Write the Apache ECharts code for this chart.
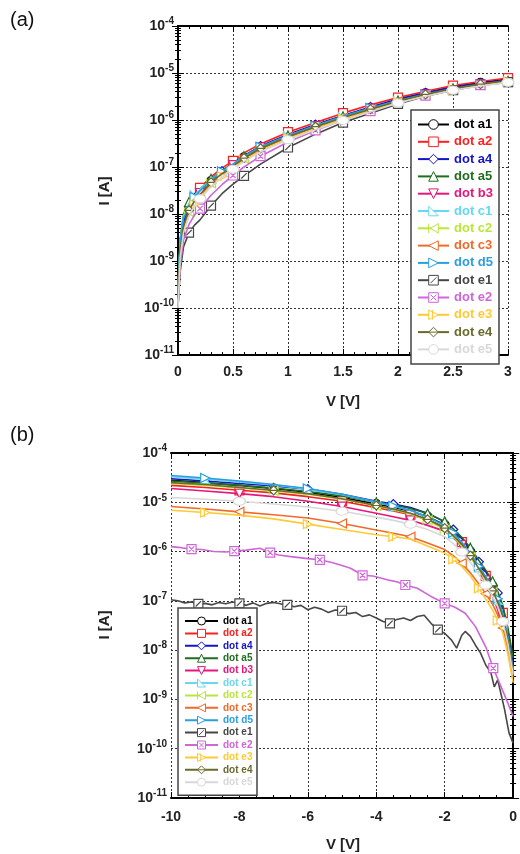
<!DOCTYPE html>
<html><head><meta charset="utf-8">
<script src="https://cdn.jsdelivr.net/npm/echarts@6/dist/echarts.min.js"></script>
<style>html,body{margin:0;padding:0;background:#fff}#c{width:520px;height:854px}</style>
</head><body><div id="c"></div>
<script>
// ---------------- DATA ----------------
const seriesNames = ['dot a1','dot a2','dot a4','dot a5','dot b3','dot c1','dot c2','dot c3','dot d5','dot e1','dot e2','dot e3','dot e4','dot e5'];
const xTicksA = [0, 0.5, 1, 1.5, 2, 2.5, 3];
const xTicksB = [-10, -8, -6, -4, -2, 0];
const yTickExponents = [-11, -10, -9, -8, -7, -6, -5, -4];

// Panel (a): forward bias, V [V]
const va = [0, 0.02, 0.05, 0.1, 0.15, 0.2, 0.3, 0.4, 0.5, 0.6, 0.75, 1.0, 1.25, 1.5, 1.75, 2.0, 2.25, 2.5, 2.75, 3.0];
const ia_a1 = [1.5e-10, 1.8e-9, 6e-9, 1.3e-8, 2e-8, 2.8e-8, 5e-8, 7.5e-8, 1.1e-7, 1.6e-7, 2.6e-7, 4.6e-7, 7.6e-7, 1.2e-6, 1.8e-6, 2.7e-6, 3.7e-6, 5e-6, 6.2e-6, 7.4e-6];
const ia_a2 = [1.2e-10, 2.5e-9, 8e-9, 1.6e-8, 2.6e-8, 3.6e-8, 6.2e-8, 9.5e-8, 1.35e-7, 2e-7, 3.1e-7, 5.5e-7, 8.8e-7, 1.4e-6, 2.1e-6, 3.0e-6, 4.1e-6, 5.4e-6, 6.6e-6, 7.8e-6];
const ia_a4 = [2e-10, 2e-9, 7e-9, 1.4e-8, 2.2e-8, 3e-8, 5.4e-8, 8.2e-8, 1.2e-7, 1.75e-7, 2.8e-7, 4.9e-7, 8e-7, 1.25e-6, 1.9e-6, 2.8e-6, 3.8e-6, 5e-6, 6.1e-6, 7.2e-6];
const ia_a5 = [3e-10, 3e-9, 1e-8, 1.8e-8, 2.6e-8, 3.4e-8, 5.6e-8, 8.4e-8, 1.2e-7, 1.7e-7, 2.7e-7, 4.7e-7, 7.6e-7, 1.2e-6, 1.8e-6, 2.6e-6, 3.6e-6, 4.7e-6, 5.8e-6, 6.8e-6];
const ia_b3 = [1e-10, 1.5e-9, 5.5e-9, 1.2e-8, 2e-8, 2.8e-8, 5e-8, 7.6e-8, 1.1e-7, 1.6e-7, 2.6e-7, 4.6e-7, 7.4e-7, 1.15e-6, 1.75e-6, 2.55e-6, 3.5e-6, 4.6e-6, 5.7e-6, 6.6e-6];
const ia_c1 = [2.5e-10, 2.8e-9, 9e-9, 1.7e-8, 2.5e-8, 3.3e-8, 5.5e-8, 8e-8, 1.15e-7, 1.65e-7, 2.6e-7, 4.5e-7, 7.3e-7, 1.15e-6, 1.7e-6, 2.5e-6, 3.4e-6, 4.5e-6, 5.5e-6, 6.4e-6];
const ia_c2 = [1.5e-10, 1.6e-9, 5e-9, 1.1e-8, 1.8e-8, 2.5e-8, 4.5e-8, 7e-8, 1.02e-7, 1.5e-7, 2.4e-7, 4.3e-7, 7e-7, 1.1e-6, 1.65e-6, 2.45e-6, 3.4e-6, 4.4e-6, 5.5e-6, 6.5e-6];
const ia_c3 = [1.2e-10, 1.4e-9, 4.8e-9, 1.05e-8, 1.7e-8, 2.4e-8, 4.4e-8, 6.8e-8, 1e-7, 1.48e-7, 2.4e-7, 4.3e-7, 7e-7, 1.12e-6, 1.7e-6, 2.5e-6, 3.4e-6, 4.5e-6, 5.6e-6, 6.6e-6];
const ia_d5 = [2.2e-10, 2.4e-9, 8e-9, 1.5e-8, 2.3e-8, 3.1e-8, 5.3e-8, 8e-8, 1.15e-7, 1.7e-7, 2.7e-7, 4.7e-7, 7.6e-7, 1.2e-6, 1.8e-6, 2.6e-6, 3.5e-6, 4.6e-6, 5.7e-6, 6.7e-6];
const ia_e1 = [1.1e-10, 6e-10, 2e-9, 4e-9, 5.8e-9, 7.5e-9, 1.5e-8, 2.7e-8, 4.3e-8, 6.5e-8, 1.15e-7, 2.6e-7, 5e-7, 8.8e-7, 1.4e-6, 2.2e-6, 3.2e-6, 4.3e-6, 5.4e-6, 6.4e-6];
const ia_e2 = [1e-10, 8e-10, 2.8e-9, 6e-9, 9.5e-9, 1.3e-8, 2.5e-8, 4.2e-8, 6.6e-8, 1e-7, 1.7e-7, 3.4e-7, 6e-7, 1e-6, 1.55e-6, 2.35e-6, 3.3e-6, 4.4e-6, 5.5e-6, 6.5e-6];
const ia_e3 = [1.3e-10, 1.3e-9, 4.5e-9, 1e-8, 1.6e-8, 2.2e-8, 4e-8, 6.3e-8, 9.4e-8, 1.38e-7, 2.2e-7, 4e-7, 6.6e-7, 1.05e-6, 1.6e-6, 2.4e-6, 3.3e-6, 4.4e-6, 5.5e-6, 6.6e-6];
const ia_e4 = [1.6e-10, 1.7e-9, 5.5e-9, 1.2e-8, 1.9e-8, 2.6e-8, 4.7e-8, 7.2e-8, 1.05e-7, 1.55e-7, 2.5e-7, 4.4e-7, 7.2e-7, 1.13e-6, 1.7e-6, 2.5e-6, 3.5e-6, 4.6e-6, 5.8e-6, 6.9e-6];
const ia_e5 = [1e-10, 1.2e-9, 4e-9, 9e-9, 1.5e-8, 2.1e-8, 3.8e-8, 6e-8, 9e-8, 1.3e-7, 2.1e-7, 3.8e-7, 6.2e-7, 9.8e-7, 1.5e-6, 2.3e-6, 3.2e-6, 4.3e-6, 5.3e-6, 6.3e-6];

// Panel (b): reverse bias, V [V]
const vb = [-10, -9, -8, -7, -6, -5, -4, -3.5, -3, -2.5, -2, -1.75, -1.5, -1.25, -1, -0.8, -0.6, -0.45, -0.3, -0.15, 0];
const ib_a1 = [2.8e-5, 2.5e-5, 2.2e-5, 1.9e-5, 1.6e-5, 1.25e-5, 9.2e-6, 7.9e-6, 6.6e-6, 5.1e-6, 3.5e-6, 2.5e-6, 1.65e-6, 1.0e-6, 5.5e-7, 3.4e-7, 2.0e-7, 1.2e-7, 6.2e-8, 2.0e-8, 4.5e-9];
const ib_a2 = [2.2e-5, 2.0e-5, 1.75e-5, 1.55e-5, 1.3e-5, 1.05e-5, 7.8e-6, 6.7e-6, 5.6e-6, 4.4e-6, 3.2e-6, 2.3e-6, 1.55e-6, 9.3e-7, 5.1e-7, 3.2e-7, 1.85e-7, 1.12e-7, 5.7e-8, 1.9e-8, 4.2e-9];
const ib_a4 = [3.0e-5, 2.7e-5, 2.4e-5, 2.15e-5, 1.85e-5, 1.45e-5, 1.05e-5, 9.2e-6, 7.8e-6, 6.0e-6, 4.0e-6, 2.8e-6, 1.85e-6, 1.1e-6, 6.2e-7, 3.9e-7, 2.3e-7, 1.45e-7, 7.5e-8, 2.4e-8, 5e-9];
const ib_a5 = [2.7e-5, 2.45e-5, 2.2e-5, 1.95e-5, 1.65e-5, 1.35e-5, 1.0e-5, 8.8e-6, 7.5e-6, 5.9e-6, 4.1e-6, 2.9e-6, 1.95e-6, 1.2e-6, 6.6e-7, 4.2e-7, 2.5e-7, 1.55e-7, 8e-8, 2.8e-8, 7e-9];
const ib_b3 = [1.9e-5, 1.7e-5, 1.5e-5, 1.3e-5, 1.05e-5, 8.2e-6, 6.0e-6, 5.1e-6, 4.3e-6, 3.4e-6, 2.6e-6, 1.9e-6, 1.35e-6, 9e-7, 4.6e-7, 2.6e-7, 1.3e-7, 6.5e-8, 3.4e-8, 1.3e-8, 4e-9];
const ib_c1 = [3.3e-5, 2.95e-5, 2.6e-5, 2.25e-5, 1.85e-5, 1.42e-5, 1.0e-5, 8.3e-6, 6.8e-6, 5.0e-6, 3.3e-6, 2.3e-6, 1.5e-6, 8.8e-7, 4.8e-7, 3e-7, 1.7e-7, 1.05e-7, 5.3e-8, 1.7e-8, 3.8e-9];
const ib_c2 = [2.4e-5, 2.2e-5, 1.95e-5, 1.7e-5, 1.45e-5, 1.15e-5, 8.4e-6, 7.1e-6, 5.8e-6, 4.3e-6, 2.8e-6, 2.0e-6, 1.3e-6, 7.7e-7, 4.2e-7, 2.6e-7, 1.5e-7, 9e-8, 4.6e-8, 1.5e-8, 3.5e-9];
const ib_c3 = [8.2e-6, 7.3e-6, 6.4e-6, 5.6e-6, 4.8e-6, 3.7e-6, 2.75e-6, 2.35e-6, 2.0e-6, 1.5e-6, 1.1e-6, 8.3e-7, 5.8e-7, 3.7e-7, 2.2e-7, 1.4e-7, 8.5e-8, 5.2e-8, 2.8e-8, 1e-8, 2.8e-9];
const ib_d5 = [3.5e-5, 3.1e-5, 2.7e-5, 2.3e-5, 1.9e-5, 1.45e-5, 1.02e-5, 8.4e-6, 6.9e-6, 5.1e-6, 3.4e-6, 2.4e-6, 1.55e-6, 9.2e-7, 5e-7, 3.1e-7, 1.8e-7, 1.1e-7, 5.6e-8, 1.8e-8, 4e-9];
const ib_e3 = [6.9e-6, 6.2e-6, 5.5e-6, 4.6e-6, 3.6e-6, 2.8e-6, 2.2e-6, 2.0e-6, 1.8e-6, 1.3e-6, 9.3e-7, 7e-7, 5e-7, 3.2e-7, 1.8e-7, 1.1e-7, 6.5e-8, 4e-8, 2.2e-8, 8e-9, 2.2e-9];
const ib_e4 = [2.5e-5, 2.3e-5, 2.0e-5, 1.75e-5, 1.5e-5, 1.18e-5, 8.6e-6, 7.3e-6, 6.0e-6, 4.5e-6, 3.0e-6, 2.1e-6, 1.4e-6, 8.3e-7, 4.5e-7, 2.8e-7, 1.6e-7, 9.5e-8, 4.8e-8, 1.6e-8, 3.6e-9];
const ib_e5 = [1.25e-5, 1.15e-5, 1.05e-5, 9.2e-6, 8.0e-6, 6.6e-6, 5.0e-6, 4.3e-6, 3.6e-6, 2.8e-6, 2.0e-6, 1.45e-6, 9.8e-7, 6e-7, 3.4e-7, 2.1e-7, 1.25e-7, 7.5e-8, 3.8e-8, 1.3e-8, 3.2e-9];
const vb_e1 = [-10, -9.8, -9.6, -9.4, -9.2, -9.0, -8.8, -8.6, -8.4, -8.2, -8.0, -7.8, -7.6, -7.4, -7.2, -7.0, -6.8, -6.6, -6.4, -6.2, -6.0, -5.8, -5.6, -5.4, -5.2, -5.0, -4.8, -4.6, -4.4, -4.2, -4.0, -3.8, -3.6, -3.4, -3.2, -3.0, -2.8, -2.6, -2.4, -2.2, -2.0, -1.8, -1.65, -1.5, -1.4, -1.25, -1.1, -0.95, -0.8, -0.65, -0.55, -0.45, -0.35, -0.25, -0.12, 0];
const ib_e1 = [1.05e-7, 1.0e-7, 9.1e-8, 9.5e-8, 8.7e-8, 8.9e-8, 8.3e-8, 9.3e-8, 8.7e-8, 9.5e-8, 8.9e-8, 8.1e-8, 9.1e-8, 7.9e-8, 8.9e-8, 9.3e-8, 8.7e-8, 8.3e-8, 7.6e-8, 8.1e-8, 6.6e-8, 7.4e-8, 6.8e-8, 5.8e-8, 6.5e-8, 6.3e-8, 5.5e-8, 5.8e-8, 4.8e-8, 5.2e-8, 4.5e-8, 3.8e-8, 3.5e-8, 4.2e-8, 4.5e-8, 4.0e-8, 4.8e-8, 5.1e-8, 3.5e-8, 2.6e-8, 2.2e-8, 1.6e-8, 1.1e-8, 2.0e-8, 2.4e-8, 1.9e-8, 1.26e-8, 8.7e-9, 5e-9, 3.5e-9, 1.8e-9, 2.5e-9, 1.26e-9, 6.3e-10, 2.1e-10, 1.3e-10];
const vb_e2 = [-10, -9.7, -9.4, -9.1, -8.75, -8.4, -8.15, -7.8, -7.4, -7.1, -6.85, -6.5, -6.0, -5.65, -5.3, -5.0, -4.75, -4.4, -4.1, -3.9, -3.6, -3.4, -3.15, -2.8, -2.4, -2.0, -1.7, -1.4, -1.1, -0.8, -0.58, -0.35, -0.15, 0];
const ib_e2 = [1.26e-6, 1.2e-6, 1.12e-6, 1.1e-6, 1.0e-6, 9.8e-7, 1.02e-6, 1.07e-6, 1.17e-6, 9.5e-7, 8.5e-7, 7.9e-7, 7.2e-7, 6.8e-7, 6.0e-7, 5.2e-7, 4.6e-7, 3.3e-7, 3.2e-7, 2.95e-7, 2.6e-7, 2.45e-7, 2.1e-7, 1.8e-7, 1.23e-7, 8.9e-8, 7.4e-8, 5.6e-8, 3.0e-8, 1.17e-8, 4.3e-9, 1.8e-9, 8.3e-10, 4.5e-10];

// ---------------- STYLE ----------------
const FONT = '"Liberation Sans", Arial, sans-serif';
const colors = ['#000000','#ff1f1f','#1414c8','#1f6e1f','#e8157a','#66d8f0','#b9e63a','#f06a2a','#2a9ee0','#474747','#cf66d8','#ffca35','#6b6a2e','#d8d8d8'];
const symbols = [
  'circle', 'rect', 'diamond', 'triangle',
  'path://M0,0L10,0L5,9Z',
  'path://M0,10L10,10L0,2Z',
  'path://M10,0L10,10L2,5Z M0,0L0,10',
  'path://M10,0L10,10L0,5Z',
  'path://M0,0L0,10L10,5Z',
  'path://M0,0L10,0L10,10L0,10Z M2,8L8,2',
  'path://M0,0L10,0L10,10L0,10Z M2,2L8,8 M8,2L2,8',
  'path://M0,0L10,5L0,10Z M4,0L4,10',
  'path://M5,0L10,5L5,10L0,5Z M0,5L10,5',
  'circle'
];
const iaList = [ia_a1, ia_a2, ia_a4, ia_a5, ia_b3, ia_c1, ia_c2, ia_c3, ia_d5, ia_e1, ia_e2, ia_e3, ia_e4, ia_e5];
const ibMain = {0: ib_a1, 1: ib_a2, 2: ib_a4, 3: ib_a5, 4: ib_b3, 5: ib_c1, 6: ib_c2, 7: ib_c3, 8: ib_d5, 11: ib_e3, 12: ib_e4, 13: ib_e5};
const e1Markers = [4, 10, 17, 25, 32, 39];
const e2Markers = [2, 6, 9, 13, 17, 22, 25, 30];

function pts(xs, ys, isMarker) {
  return xs.map((x, i) => isMarker(i) ? [x, ys[i]] : { value: [x, ys[i]], symbol: 'none' });
}

const series = [];
seriesNames.forEach((name, k) => {
  const c = colors[k];
  const base = {
    name, type: 'line', symbol: symbols[k],
    symbolSize: k === 13 ? [12, 8] : 9,
    lineStyle: { color: c, width: 1.6 },
    itemStyle: { color: '#fff', borderColor: c, borderWidth: 1.2 },
    emphasis: { disabled: true }, silent: true, z: 2 + k * 0.01
  };
  series.push(Object.assign({}, base, {
    xAxisIndex: 0, yAxisIndex: 0,
    data: pts(va, iaList[k], i => i >= 3 && ((i <= 9 && (i + k) % 3 === 0) || (i > 9 && (i + k) % 2 === 0)))
  }));
  let d;
  if (k === 9) d = pts(vb_e1, ib_e1, i => e1Markers.includes(i));
  else if (k === 10) d = pts(vb_e2, ib_e2, i => e2Markers.includes(i));
  else d = pts(vb, ibMain[k], i => i >= 1 && i <= 18 && ((i <= 9 && (i + k) % 3 === 0) || (i > 9 && (i + k) % 3 === 1)));
  series.push(Object.assign({}, base, { xAxisIndex: 2, yAxisIndex: 2, data: d }));
});

const labelRich = {
  b: { fontFamily: FONT, fontSize: 14, fontWeight: 'bold', color: '#222' },
  s: { fontFamily: FONT, fontSize: 10, fontWeight: 'bold', color: '#222', padding: [0, 0, 9, 0] }
};
function yAxisPair(gi) {
  const common = {
    type: 'log', logBase: 10, min: Math.pow(10, yTickExponents[0]), max: Math.pow(10, yTickExponents[yTickExponents.length - 1]),
    gridIndex: gi,
    axisLine: { show: true, lineStyle: { color: '#000', width: 2 } },
    axisTick: { show: true, inside: true, length: 6, lineStyle: { color: '#000', width: 1 } },
    minorTick: { show: true, splitNumber: 9, length: 3, lineStyle: { color: '#000', width: 1 } }
  };
  return [
    Object.assign({}, common, { position: 'left',
      axisLabel: { margin: 4, formatter: v => '{b|10}{s|' + Math.round(Math.log10(v)) + '}', rich: labelRich },
      splitLine: { show: true, lineStyle: { color: '#333', width: 1, type: [2, 2] } } }),
    Object.assign({}, common, { position: 'right', axisLabel: { show: false }, splitLine: { show: false } })
  ];
}
function xAxisPair(gi, ticks, minorSplit, margin) {
  const common = {
    type: 'value', min: ticks[0], max: ticks[ticks.length - 1], interval: ticks[1] - ticks[0],
    gridIndex: gi,
    axisLine: { show: true, onZero: false, lineStyle: { color: '#000', width: 2 } },
    axisTick: { show: true, inside: true, length: 6, lineStyle: { color: '#000', width: 1 } },
    minorTick: { show: true, splitNumber: minorSplit, length: 3, lineStyle: { color: '#000', width: 1 } }
  };
  return [
    Object.assign({}, common, { position: 'bottom',
      axisLabel: { margin: margin, fontFamily: FONT, fontSize: 14, fontWeight: 'bold', color: '#222' },
      splitLine: { show: true, lineStyle: { color: '#333', width: 1, type: [2, 2] } } }),
    Object.assign({}, common, { position: 'top', axisLabel: { show: false }, splitLine: { show: false } })
  ];
}

function legendCfg(left, top, fontSize, itemW, itemH, gap, pad) {
  return {
    orient: 'vertical', left, top, selectedMode: false,
    backgroundColor: '#fff', borderColor: '#444', borderWidth: 1.5, padding: pad,
    itemWidth: itemW, itemHeight: itemH, itemGap: gap,
    itemStyle: { borderWidth: 1 },
    textStyle: { fontFamily: FONT, fontSize, fontWeight: 'bold', lineHeight: itemH, padding: [0, 0, 0, 0] },
    data: seriesNames.map((n, k) => ({ name: n, textStyle: { color: colors[k] } }))
  };
}

const chart = echarts.init(document.getElementById('c'), null, { renderer: 'canvas' });
chart.setOption({
  animation: false,
  backgroundColor: '#fff',
  grid: [
    { left: 178, top: 26, width: 330, height: 329 },
    { left: 171, top: 453, width: 344, height: 345 }
  ],
  xAxis: [...xAxisPair(0, xTicksA, 5, 10), ...xAxisPair(1, xTicksB, 4, 12)],
  yAxis: [...yAxisPair(0), ...yAxisPair(1)],
  legend: [
    legendCfg(411, 110, 13, 31, 12, 4.3, [8, 6, 8, 6]),
    legendCfg(178, 608, 10, 33, 10, 2.4, [8, 4, 8, 6])
  ],
  graphic: [
    { type: 'text', left: 10, top: 10, style: { text: '(a)', font: '20px ' + FONT, fill: '#111' } },
    { type: 'text', left: 10, top: 425, style: { text: '(b)', font: '20px ' + FONT, fill: '#111' } },
    { type: 'text', x: 343, y: 402, style: { text: 'V [V]', font: 'bold 15px ' + FONT, fill: '#222', align: 'center', verticalAlign: 'middle' } },
    { type: 'text', x: 343, y: 845, style: { text: 'V [V]', font: 'bold 15px ' + FONT, fill: '#222', align: 'center', verticalAlign: 'middle' } },
    { type: 'text', x: 105, y: 191, rotation: Math.PI / 2, style: { text: 'I [A]', font: 'bold 15px ' + FONT, fill: '#222', align: 'center', verticalAlign: 'middle' } },
    { type: 'text', x: 105, y: 625, rotation: Math.PI / 2, style: { text: 'I [A]', font: 'bold 15px ' + FONT, fill: '#222', align: 'center', verticalAlign: 'middle' } }
  ],
  series
});
</script>
</body></html>
